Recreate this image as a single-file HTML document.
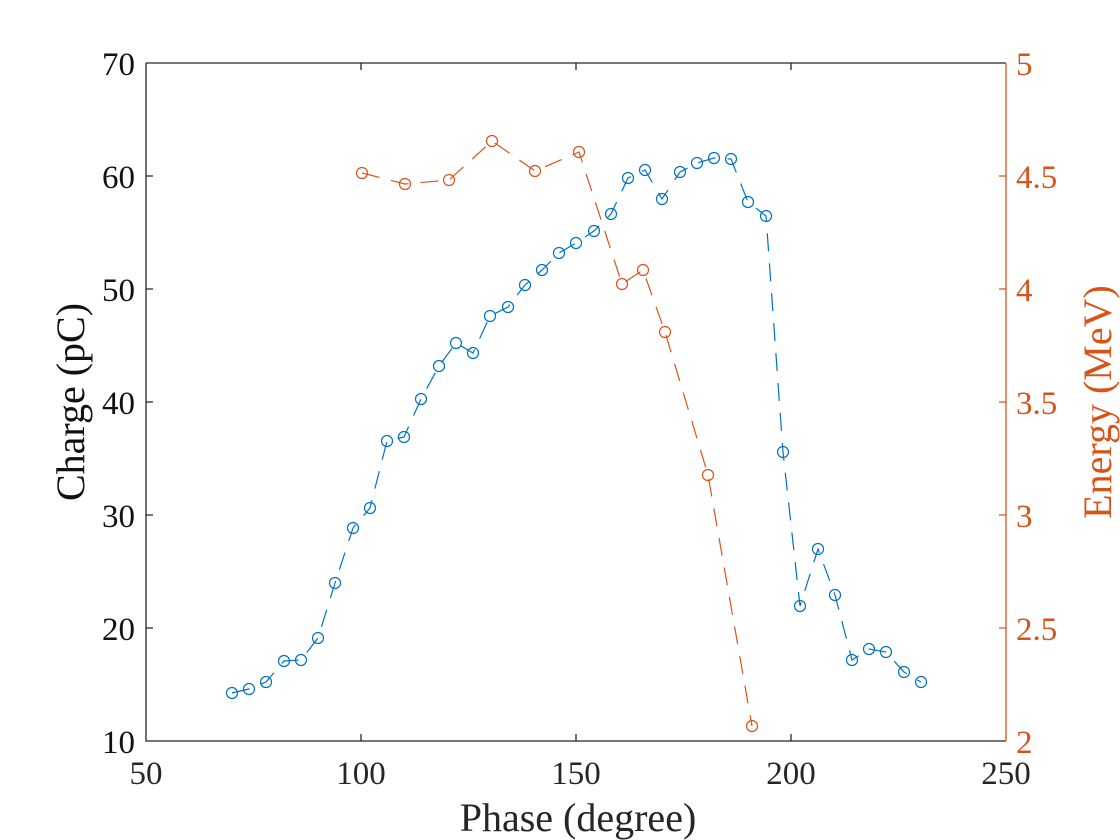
<!DOCTYPE html>
<html><head><meta charset="utf-8"><style>body{margin:0;background:#fff}svg{display:block}text{font-family:"Liberation Serif",serif}</style></head>
<body>
<svg width="1120" height="840" xmlns="http://www.w3.org/2000/svg">
<rect width="1120" height="840" fill="#fff"/>
<g stroke="#262626" stroke-width="1.3" fill="none">
<path d="M146,63 H1006 M146,63 V741 H1006"/>
<path d="M361,741v-7 M576,741v-7 M791,741v-7 M361,63v7 M576,63v7 M791,63v7"/>
<path d="M146,628h7 M146,515h7 M146,402h7 M146,289h7 M146,176h7"/>
</g>
<g stroke="#D95319" stroke-width="1.3" fill="none">
<path d="M1006,63V741 M1006,628h-7 M1006,515h-7 M1006,402h-7 M1006,289h-7 M1006,176h-7"/>
</g>
<g font-size="33" fill="#262626" text-anchor="middle">
<text x="146" y="784">50</text><text x="361" y="784">100</text><text x="576" y="784">150</text><text x="791" y="784">200</text><text x="1006" y="784">250</text>
</g>
<g font-size="33" fill="#111" text-anchor="end">
<text x="135" y="753">10</text><text x="135" y="640">20</text><text x="135" y="527">30</text><text x="135" y="414">40</text><text x="135" y="301">50</text><text x="135" y="188">60</text><text x="135" y="75">70</text>
</g>
<g font-size="33" fill="#D95319">
<text x="1016" y="753">2</text><text x="1016" y="640">2.5</text><text x="1016" y="527">3</text><text x="1016" y="414">3.5</text><text x="1016" y="301">4</text><text x="1016" y="188">4.5</text><text x="1016" y="75">5</text>
</g>
<text x="578" y="831" font-size="40" fill="#262626" text-anchor="middle">Phase (degree)</text>
<text transform="translate(84,402) rotate(-90)" font-size="40" fill="#111" text-anchor="middle">Charge (pC)</text>
<text transform="translate(1111,402) rotate(-90)" font-size="40" fill="#D95319" text-anchor="middle">Energy (MeV)</text>
<polyline fill="none" stroke="#0072BD" stroke-width="1.2" stroke-dasharray="18,12" points="232,693 249,689 266,682 284,661 301,660 318,638 335,583 353,528 370,508 387,441 404,437 421,399 439,366 456,343 473,353 490,316 508,307 525,285 542,270 559,253 576,243 594,231 611,214 628,178 645,170 662,199 680,172 697,163 714,158 731,159 748,202 766,216 783,452 800,606 818,549 835,595 852,660 869,649 886,652 904,672 921,682"/>
<g fill="none" stroke="#0072BD" stroke-width="1.2">
<circle cx="232" cy="693" r="5.5"/><circle cx="249" cy="689" r="5.5"/><circle cx="266" cy="682" r="5.5"/><circle cx="284" cy="661" r="5.5"/><circle cx="301" cy="660" r="5.5"/><circle cx="318" cy="638" r="5.5"/><circle cx="335" cy="583" r="5.5"/><circle cx="353" cy="528" r="5.5"/><circle cx="370" cy="508" r="5.5"/><circle cx="387" cy="441" r="5.5"/><circle cx="404" cy="437" r="5.5"/><circle cx="421" cy="399" r="5.5"/><circle cx="439" cy="366" r="5.5"/><circle cx="456" cy="343" r="5.5"/><circle cx="473" cy="353" r="5.5"/><circle cx="490" cy="316" r="5.5"/><circle cx="508" cy="307" r="5.5"/><circle cx="525" cy="285" r="5.5"/><circle cx="542" cy="270" r="5.5"/><circle cx="559" cy="253" r="5.5"/><circle cx="576" cy="243" r="5.5"/><circle cx="594" cy="231" r="5.5"/><circle cx="611" cy="214" r="5.5"/><circle cx="628" cy="178" r="5.5"/><circle cx="645" cy="170" r="5.5"/><circle cx="662" cy="199" r="5.5"/><circle cx="680" cy="172" r="5.5"/><circle cx="697" cy="163" r="5.5"/><circle cx="714" cy="158" r="5.5"/><circle cx="731" cy="159" r="5.5"/><circle cx="748" cy="202" r="5.5"/><circle cx="766" cy="216" r="5.5"/><circle cx="783" cy="452" r="5.5"/><circle cx="800" cy="606" r="5.5"/><circle cx="818" cy="549" r="5.5"/><circle cx="835" cy="595" r="5.5"/><circle cx="852" cy="660" r="5.5"/><circle cx="869" cy="649" r="5.5"/><circle cx="886" cy="652" r="5.5"/><circle cx="904" cy="672" r="5.5"/><circle cx="921" cy="682" r="5.5"/>
</g>
<polyline fill="none" stroke="#D95319" stroke-width="1.2" stroke-dasharray="18,12" points="362,173 405,184 449,180 492,141 535,171 579,152 622,284 643,270 665,332 708,475 752,726"/>
<g fill="none" stroke="#D95319" stroke-width="1.2">
<circle cx="362" cy="173" r="5.5"/><circle cx="405" cy="184" r="5.5"/><circle cx="449" cy="180" r="5.5"/><circle cx="492" cy="141" r="5.5"/><circle cx="535" cy="171" r="5.5"/><circle cx="579" cy="152" r="5.5"/><circle cx="622" cy="284" r="5.5"/><circle cx="643" cy="270" r="5.5"/><circle cx="665" cy="332" r="5.5"/><circle cx="708" cy="475" r="5.5"/><circle cx="752" cy="726" r="5.5"/>
</g>
</svg>
</body></html>
